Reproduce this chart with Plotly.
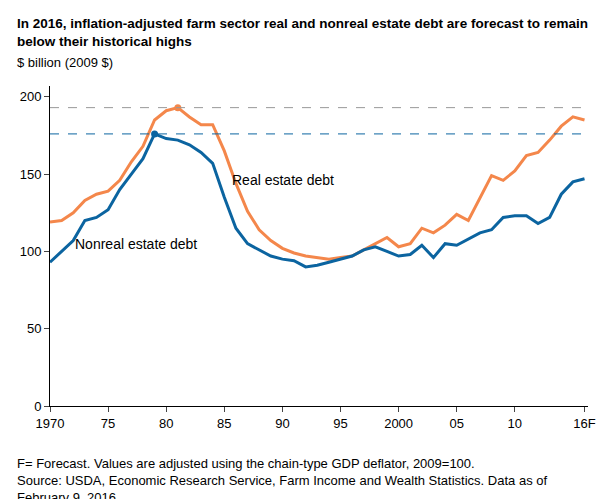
import plotly.graph_objects as go

years = list(range(1970, 2017))
real_estate = [119,120,125,133,137,139,146,158,168,185,191,193,187,182,182,165,144,126,114,107,102,99,97,96,95,96,97,101,105,109,103,105,115,112,117,124,120,135,149,146,152,162,164,172,181,187,185]
nonreal_estate = [93,100,107,120,122,127,140,150,160,176,173,172,169,164,157,135,115,105,101,97,95,94,90,91,93,95,97,101,103,100,97,98,104,96,105,104,108,112,114,122,123,123,118,122,137,145,147]
tick_vals = [1970,1975,1980,1985,1990,1995,2000,2005,2010,2016]
tick_text = ["1970","75","80","85","90","95","2000","05","10","16F"]
real_peak = 193
nonreal_peak = 176

ORANGE = "#f4874b"
BLUE = "#0b64a0"
fig = go.Figure()
fig.add_hline(y=real_peak, line=dict(color="#999999", width=1, dash="dash"))
fig.add_hline(y=nonreal_peak, line=dict(color=BLUE, width=1, dash="dash"))
fig.add_trace(go.Scatter(x=years, y=real_estate, mode="lines", line=dict(color=ORANGE, width=3)))
fig.add_trace(go.Scatter(x=years, y=nonreal_estate, mode="lines", line=dict(color=BLUE, width=3)))
fig.add_trace(go.Scatter(x=[1981], y=[real_peak], mode="markers", marker=dict(color=ORANGE, size=7)))
fig.add_trace(go.Scatter(x=[1979], y=[nonreal_peak], mode="markers", marker=dict(color=BLUE, size=7)))
fig.add_annotation(x=1985.5, y=146, text="Real estate debt", showarrow=False, xanchor="left", font=dict(size=14, color="#000"))
fig.add_annotation(x=1972, y=105, text="Nonreal estate debt", showarrow=False, xanchor="left", font=dict(size=14, color="#000"))

fig.update_layout(
    width=609, height=499, showlegend=False,
    paper_bgcolor="white", plot_bgcolor="white",
    font=dict(family="Liberation Sans, Arial", size=13, color="#000"),
    margin=dict(l=38, r=29, t=78, b=101),
    xaxis=dict(range=[1970, 2016.3], tickvals=tick_vals, ticktext=tick_text, showgrid=False,
               showline=True, linecolor="#000", ticks="outside", ticklen=5, zeroline=False),
    yaxis=dict(range=[0, 207], tickvals=[0,50,100,150,200], showgrid=False, showline=True,
               linecolor="#000", ticks="outside", ticklen=5, zeroline=False),
)
fig.add_annotation(xref="paper", yref="paper", x=-0.065, y=1.225, xanchor="left", yanchor="top", align="left", showarrow=False,
    text="<b>In 2016, inflation-adjusted farm sector real and nonreal estate debt are forecast to remain<br>below their historical highs</b>",
    font=dict(size=13.5))
fig.add_annotation(xref="paper", yref="paper", x=-0.065, y=1.045, xanchor="left", yanchor="bottom", showarrow=False,
    text="$ billion (2009 $)", font=dict(size=13))
fig.add_annotation(xref="paper", yref="paper", x=-0.065, y=-0.15, xanchor="left", yanchor="top", align="left", showarrow=False,
    text="F= Forecast. Values are adjusted using the chain-type GDP deflator, 2009=100.<br>Source: USDA, Economic Research Service, Farm Income and Wealth Statistics. Data as of<br>February 9, 2016.",
    font=dict(size=13))
fig.write_html("out.html")
